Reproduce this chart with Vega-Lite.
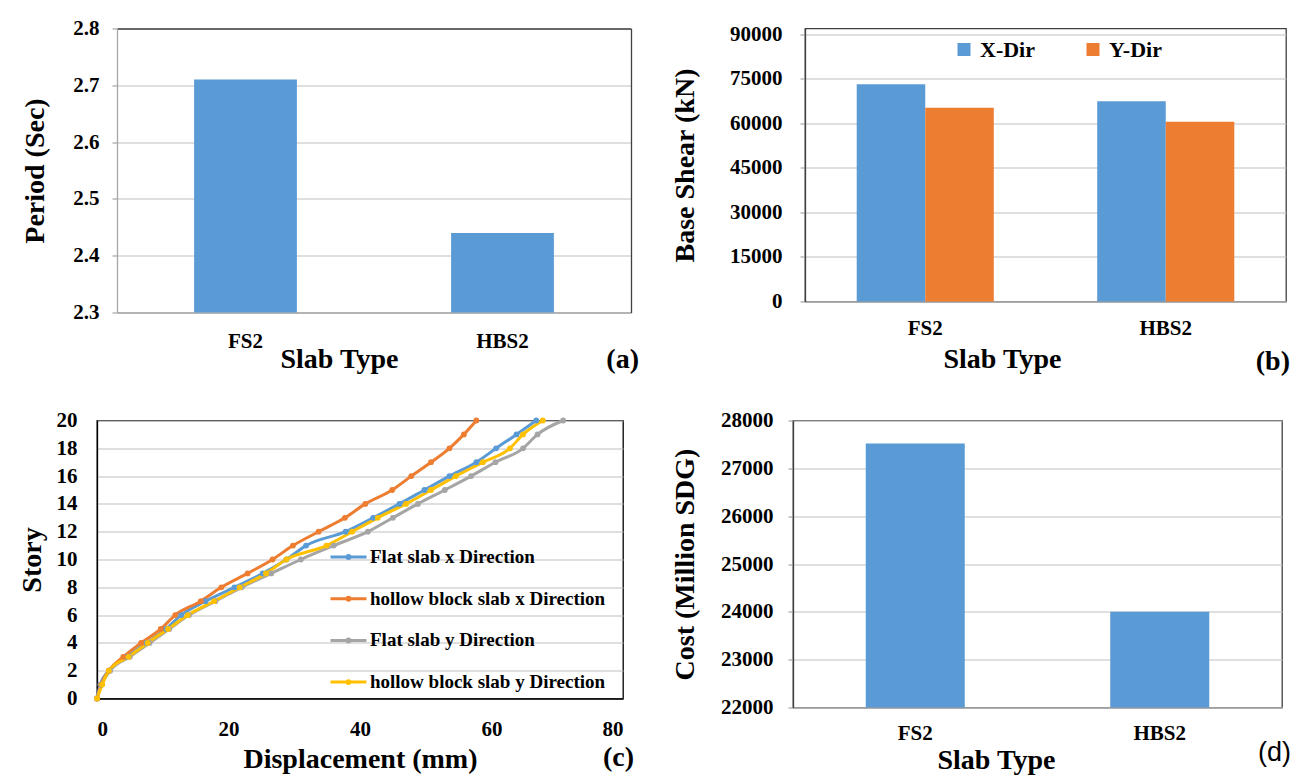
{
  "$schema": "https://vega.github.io/schema/vega-lite/v6.json",
  "background": "white",
  "padding": {"left": 17, "top": 17.5, "right": 0, "bottom": 0},
  "config": {
    "font": "Liberation Serif",
    "view": {"stroke": "#404040", "strokeWidth": 1.3},
    "axis": {
      "labelFont": "Liberation Serif", "labelFontWeight": "bold", "labelFontSize": 21, "labelColor": "#000000",
      "titleFont": "Liberation Serif", "titleFontWeight": "bold", "titleFontSize": 28, "titleColor": "#000000",
      "gridColor": "#BFBFBF", "gridWidth": 1.2, "domainColor": "#A6A6A6", "domainWidth": 1.3,
      "tickColor": "#A6A6A6", "tickWidth": 1.2
    },
    "axisX": {"grid": false, "labelAngle": 0},
    "title": {"font": "Liberation Serif", "fontWeight": "bold", "fontSize": 28, "color": "#000000"},
    "bar": {"color": "#5B9BD5"}
  },
  "datasets": {
    "period": [
      {"slab": "FS2", "period": 2.71},
      {"slab": "HBS2", "period": 2.44}
    ],
    "shear": [
      {"slab": "FS2", "dir": "X-Dir", "shear": 73200},
      {"slab": "FS2", "dir": "Y-Dir", "shear": 65300},
      {"slab": "HBS2", "dir": "X-Dir", "shear": 67500},
      {"slab": "HBS2", "dir": "Y-Dir", "shear": 60600}
    ],
    "cost": [
      {"slab": "FS2", "cost": 27520},
      {"slab": "HBS2", "cost": 24000}
    ],
    "drift": [
      {"series": "Flat slab x Direction", "story": 0, "disp": 0},
      {"series": "Flat slab x Direction", "story": 1, "disp": 0.5},
      {"series": "Flat slab x Direction", "story": 2, "disp": 1.8},
      {"series": "Flat slab x Direction", "story": 3, "disp": 4.5},
      {"series": "Flat slab x Direction", "story": 4, "disp": 7.5},
      {"series": "Flat slab x Direction", "story": 5, "disp": 10.5},
      {"series": "Flat slab x Direction", "story": 6, "disp": 12.8},
      {"series": "Flat slab x Direction", "story": 7, "disp": 16.5},
      {"series": "Flat slab x Direction", "story": 8, "disp": 20.9},
      {"series": "Flat slab x Direction", "story": 9, "disp": 25.2},
      {"series": "Flat slab x Direction", "story": 10, "disp": 28.8},
      {"series": "Flat slab x Direction", "story": 11, "disp": 31.8},
      {"series": "Flat slab x Direction", "story": 12, "disp": 37.8},
      {"series": "Flat slab x Direction", "story": 13, "disp": 42.0},
      {"series": "Flat slab x Direction", "story": 14, "disp": 46.0},
      {"series": "Flat slab x Direction", "story": 15, "disp": 49.8},
      {"series": "Flat slab x Direction", "story": 16, "disp": 53.6},
      {"series": "Flat slab x Direction", "story": 17, "disp": 57.7},
      {"series": "Flat slab x Direction", "story": 18, "disp": 60.7},
      {"series": "Flat slab x Direction", "story": 19, "disp": 63.8},
      {"series": "Flat slab x Direction", "story": 20, "disp": 66.8},
      {"series": "hollow block slab x Direction", "story": 0, "disp": 0},
      {"series": "hollow block slab x Direction", "story": 1, "disp": 0.6},
      {"series": "hollow block slab x Direction", "story": 2, "disp": 1.8},
      {"series": "hollow block slab x Direction", "story": 3, "disp": 4.0},
      {"series": "hollow block slab x Direction", "story": 4, "disp": 6.7},
      {"series": "hollow block slab x Direction", "story": 5, "disp": 9.7},
      {"series": "hollow block slab x Direction", "story": 6, "disp": 11.9},
      {"series": "hollow block slab x Direction", "story": 7, "disp": 15.8},
      {"series": "hollow block slab x Direction", "story": 8, "disp": 18.9},
      {"series": "hollow block slab x Direction", "story": 9, "disp": 22.9},
      {"series": "hollow block slab x Direction", "story": 10, "disp": 26.7},
      {"series": "hollow block slab x Direction", "story": 11, "disp": 29.8},
      {"series": "hollow block slab x Direction", "story": 12, "disp": 33.7},
      {"series": "hollow block slab x Direction", "story": 13, "disp": 37.7},
      {"series": "hollow block slab x Direction", "story": 14, "disp": 40.8},
      {"series": "hollow block slab x Direction", "story": 15, "disp": 44.9},
      {"series": "hollow block slab x Direction", "story": 16, "disp": 47.8},
      {"series": "hollow block slab x Direction", "story": 17, "disp": 50.8},
      {"series": "hollow block slab x Direction", "story": 18, "disp": 53.6},
      {"series": "hollow block slab x Direction", "story": 19, "disp": 55.8},
      {"series": "hollow block slab x Direction", "story": 20, "disp": 57.7},
      {"series": "Flat slab y Direction", "story": 0, "disp": 0},
      {"series": "Flat slab y Direction", "story": 1, "disp": 0.7},
      {"series": "Flat slab y Direction", "story": 2, "disp": 2.0},
      {"series": "Flat slab y Direction", "story": 3, "disp": 5.0},
      {"series": "Flat slab y Direction", "story": 4, "disp": 8.0},
      {"series": "Flat slab y Direction", "story": 5, "disp": 11.0},
      {"series": "Flat slab y Direction", "story": 6, "disp": 14.0},
      {"series": "Flat slab y Direction", "story": 7, "disp": 18.0},
      {"series": "Flat slab y Direction", "story": 8, "disp": 22.0},
      {"series": "Flat slab y Direction", "story": 9, "disp": 26.5},
      {"series": "Flat slab y Direction", "story": 10, "disp": 31.0},
      {"series": "Flat slab y Direction", "story": 11, "disp": 36.0},
      {"series": "Flat slab y Direction", "story": 12, "disp": 41.2},
      {"series": "Flat slab y Direction", "story": 13, "disp": 45.0},
      {"series": "Flat slab y Direction", "story": 14, "disp": 48.8},
      {"series": "Flat slab y Direction", "story": 15, "disp": 52.9},
      {"series": "Flat slab y Direction", "story": 16, "disp": 56.9},
      {"series": "Flat slab y Direction", "story": 17, "disp": 60.6},
      {"series": "Flat slab y Direction", "story": 18, "disp": 64.8},
      {"series": "Flat slab y Direction", "story": 19, "disp": 67.0},
      {"series": "Flat slab y Direction", "story": 20, "disp": 70.9},
      {"series": "hollow block slab y Direction", "story": 0, "disp": 0},
      {"series": "hollow block slab y Direction", "story": 1, "disp": 0.8},
      {"series": "hollow block slab y Direction", "story": 2, "disp": 1.8},
      {"series": "hollow block slab y Direction", "story": 3, "disp": 4.8},
      {"series": "hollow block slab y Direction", "story": 4, "disp": 7.7},
      {"series": "hollow block slab y Direction", "story": 5, "disp": 10.8},
      {"series": "hollow block slab y Direction", "story": 6, "disp": 13.8},
      {"series": "hollow block slab y Direction", "story": 7, "disp": 17.8},
      {"series": "hollow block slab y Direction", "story": 8, "disp": 21.7},
      {"series": "hollow block slab y Direction", "story": 9, "disp": 25.7},
      {"series": "hollow block slab y Direction", "story": 10, "disp": 28.8},
      {"series": "hollow block slab y Direction", "story": 11, "disp": 34.9},
      {"series": "hollow block slab y Direction", "story": 12, "disp": 38.8},
      {"series": "hollow block slab y Direction", "story": 13, "disp": 42.7},
      {"series": "hollow block slab y Direction", "story": 14, "disp": 47.0},
      {"series": "hollow block slab y Direction", "story": 15, "disp": 50.8},
      {"series": "hollow block slab y Direction", "story": 16, "disp": 54.6},
      {"series": "hollow block slab y Direction", "story": 17, "disp": 58.7},
      {"series": "hollow block slab y Direction", "story": 18, "disp": 62.8},
      {"series": "hollow block slab y Direction", "story": 19, "disp": 64.8},
      {"series": "hollow block slab y Direction", "story": 20, "disp": 67.8}
    ]
  },
  "columns": 2,
  "align": "none",
  "spacing": {"row": 32, "column": 31},
  "resolve": {"scale": {"color": "independent"}, "legend": {"color": "independent"}},
  "concat": [
    {
      "width": 534, "height": 284,
      "data": {"name": "period"},
      "view": {"stroke": null},
      "title": {"text": "(a)", "orient": "bottom", "anchor": "end", "frame": "group", "baseline": "top", "offset": 0, "dx": 8, "dy": -28},
      "resolve": {"axis": {"x": "independent", "y": "independent"}},
      "layer": [
        {
          "mark": {"type": "bar", "clip": true},
          "encoding": {
            "x": {"field": "slab", "type": "nominal", "sort": null,
                  "scale": {"range": [20, 534], "paddingInner": 0.6, "paddingOuter": 0.3},
                  "axis": {"orient": "bottom", "title": "Slab Type", "ticks": false, "labelPadding": 18, "titlePadding": -6, "titleX": 242}},
            "y": {"field": "period", "type": "quantitative", "scale": {"domain": [2.3, 2.8], "nice": false},
                  "axis": {"orient": "left", "offset": -20, "title": "Period (Sec)", "values": [2.3, 2.4, 2.5, 2.6, 2.7, 2.8], "format": ".1f", "tickSize": 5, "labelPadding": 13, "titlePadding": 23}}
          }
        },
        {
          "mark": {"type": "bar", "clip": true, "opacity": 0},
          "encoding": {
            "x": {"field": "slab", "type": "nominal", "sort": null,
                  "axis": {"orient": "top", "title": null, "labels": false, "ticks": false, "grid": false, "domainColor": "#404040"}},
            "y": {"field": "period", "type": "quantitative",
                  "axis": {"orient": "right", "title": null, "labels": false, "ticks": false, "grid": false, "domainColor": "#404040"}}
          }
        }
      ]
    },
    {
      "width": 481, "height": 273,
      "data": {"name": "shear"},
      "title": {"text": "(b)", "orient": "bottom", "anchor": "end", "frame": "group", "baseline": "top", "offset": 0, "dx": 4, "dy": -26},
      "mark": {"type": "bar"},
      "encoding": {
        "x": {"field": "slab", "type": "nominal", "sort": null,
              "scale": {"paddingInner": 0.43, "paddingOuter": 0.215},
              "axis": {"title": "Slab Type", "ticks": false, "labelPadding": 16, "titlePadding": 7, "titleX": 197}},
        "xOffset": {"field": "dir", "type": "nominal", "sort": null},
        "y": {"field": "shear", "type": "quantitative", "scale": {"domain": [0, 92022], "nice": false},
              "axis": {"title": "Base Shear (kN)", "values": [0, 15000, 30000, 45000, 60000, 75000, 90000], "format": "d", "tickSize": 5, "labelPadding": 18, "titlePadding": 30, "domainColor": "#404040"}},
        "color": {"field": "dir", "type": "nominal",
                  "scale": {"domain": ["X-Dir", "Y-Dir"], "range": ["#5B9BD5", "#ED7D31"]},
                  "legend": {"orient": "none", "legendX": 148, "legendY": 10, "direction": "horizontal", "title": null,
                             "symbolType": "square", "symbolSize": 169, "symbolStrokeWidth": 0,
                             "labelFont": "Liberation Serif", "labelFontWeight": "bold", "labelFontSize": 22, "labelColor": "#000000",
                             "labelOffset": 5, "columnPadding": 47}}
      }
    },
    {
      "width": 526, "height": 278,
      "data": {"name": "drift"},
      "view": {"stroke": "#000000", "strokeWidth": 1.3},
      "title": {"text": "(c)", "orient": "bottom", "anchor": "end", "frame": "group", "baseline": "top", "offset": 0, "dx": 11, "dy": -30},
      "mark": {"type": "line", "interpolate": "monotone", "strokeWidth": 3, "point": {"filled": true, "size": 34}},
      "encoding": {
        "x": {"field": "disp", "type": "quantitative", "scale": {"domain": [0, 80]},
              "axis": {"title": "Displacement (mm)", "values": [0, 20, 40, 60, 80], "ticks": false, "grid": false, "labelPadding": 20, "titlePadding": 6, "domainColor": "#000000"}},
        "y": {"field": "story", "type": "quantitative", "scale": {"domain": [0, 20]},
              "axis": {"title": "Story", "values": [0, 2, 4, 6, 8, 10, 12, 14, 16, 18, 20], "ticks": false, "labelPadding": 20, "titlePadding": 10, "domainColor": "#000000"}},
        "color": {"field": "series", "type": "nominal",
                  "scale": {"domain": ["Flat slab x Direction", "hollow block slab x Direction", "Flat slab y Direction", "hollow block slab y Direction"],
                            "range": ["#5B9BD5", "#ED7D31", "#A5A5A5", "#FFC000"]},
                  "legend": {"orient": "none", "legendX": 232, "legendY": 117, "title": null,
                             "symbolType": "M-1,0H1M-0.08,0A0.08,0.08 0 1,1 0.08,0A0.08,0.08 0 1,1 -0.08,0",
                             "symbolSize": 1296, "symbolStrokeWidth": 3,
                             "labelFont": "Liberation Serif", "labelFontWeight": "bold", "labelFontSize": 19, "labelColor": "#000000",
                             "labelOffset": 2, "rowPadding": 11.7, "labelLimit": 400}},
        "order": {"field": "story", "type": "quantitative"}
      }
    },
    {
      "width": 489, "height": 287,
      "data": {"name": "cost"},
      "title": {"text": "(d)", "orient": "bottom", "anchor": "end", "frame": "group", "baseline": "top", "offset": 0, "dx": 9, "dy": -35, "font": "Liberation Sans", "fontWeight": "normal", "fontSize": 27},
      "mark": {"type": "bar", "clip": true},
      "encoding": {
        "x": {"field": "slab", "type": "nominal", "sort": null,
              "scale": {"paddingInner": 0.595, "paddingOuter": 0.2975},
              "axis": {"title": "Slab Type", "ticks": false, "labelPadding": 15, "titlePadding": 3, "titleX": 203}},
        "y": {"field": "cost", "type": "quantitative", "scale": {"domain": [22000, 28000], "nice": false},
              "axis": {"title": "Cost (Million SDG)", "values": [22000, 23000, 24000, 25000, 26000, 27000, 28000], "format": "d", "tickSize": 5, "labelPadding": 15, "titlePadding": 21, "domainColor": "#404040"}}
      }
    }
  ]
}
